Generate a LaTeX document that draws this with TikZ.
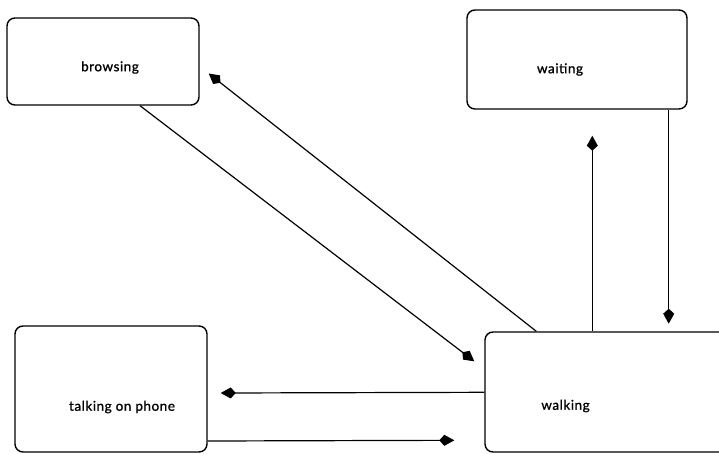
\documentclass[tikz,border=0pt]{standalone}
\usepackage{fontspec}
\setmainfont{Lato}[LetterSpace=4, UprightFeatures={FakeBold=1}]
\usepackage{tikz}
\usetikzlibrary{arrows.meta, positioning, calc}

\begin{document}
\begin{tikzpicture}[x=1pt, y=-1pt,
  state/.style={rectangle, draw, line width=1.4pt, rounded corners=8pt, inner sep=0pt},
  every label/.style={font=\fontsize{13.5}{16}\selectfont},
  arrow/.style={-{Kite[length=15pt, width=11pt, inset=5pt]}, line width=1.2pt}]
\useasboundingbox (0,0) rectangle (719,453);

\node[state, minimum width=192pt, minimum height=87pt,
  label={[xshift=7pt, yshift=-6pt]center:browsing}] (browse) at (103,61.5) {};
\node[state, minimum width=220pt, minimum height=99pt,
  label={[xshift=-17pt, yshift=-10pt]center:waiting}] (wait) at (577,59.5) {};
\node[state, minimum width=192pt, minimum height=126pt,
  label={[xshift=11pt, yshift=-18pt]center:talking on phone}] (talk) at (111,389) {};
\node[state, minimum width=275pt, minimum height=120pt,
  label={[xshift=-57pt, yshift=-14pt]center:walking}] (walk) at (622.5,392) {};

\draw[arrow] ([xshift=37pt]browse.south) -- ([xshift=-10pt, yshift=-30pt]walk.north west);
\draw[arrow] ([xshift=52pt]walk.north west) -- ([xshift=9pt, yshift=-12pt]browse.east);
\draw[arrow] ([xshift=108pt]walk.north west) -- ([xshift=126pt, yshift=-26pt]wait.south west);
\draw[arrow] ([xshift=-19pt]wait.south east) -- ([xshift=-19pt, yshift=-214pt]wait.south east);
\draw[arrow] ([yshift=-61pt]walk.north west) -- ([xshift=13pt, yshift=-4pt]talk.east);
\draw[arrow] ([yshift=-52pt]talk.east) -- ([xshift=-30pt, yshift=-109pt]walk.north west);
\end{tikzpicture}
\end{document}
